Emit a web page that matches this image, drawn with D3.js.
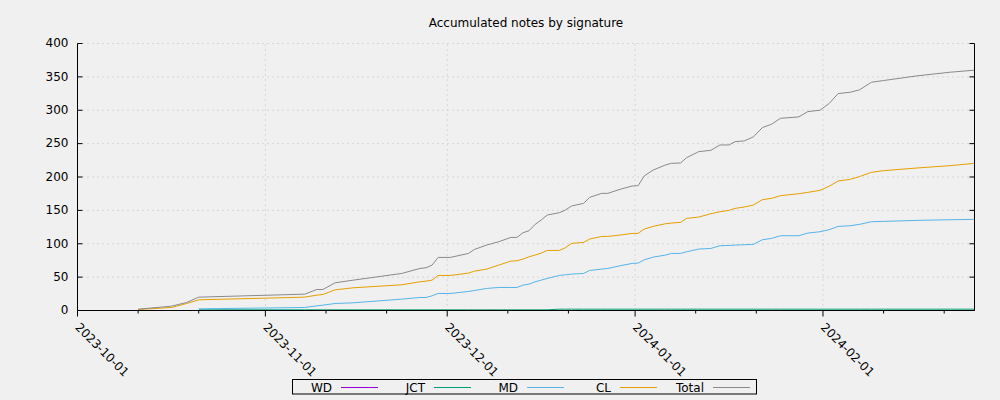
<!DOCTYPE html>
<html><head><meta charset="utf-8">
<script src="https://cdn.jsdelivr.net/npm/d3@7"></script>
<style>
html,body{margin:0;padding:0;background:#f0f0f0;}
svg{display:block;font-family:"DejaVu Sans",sans-serif;}
</style></head><body>
<svg id="chart" width="1000" height="400"></svg>
<script>
const title = "Accumulated notes by signature";
const dates = ["2023-10-11T00","2023-10-16T12","2023-10-19T00","2023-10-21T00","2023-11-07T12","2023-11-09T12","2023-11-10T12","2023-11-12T12","2023-11-15T12","2023-11-23T12",
"2023-11-26T12","2023-11-27T12","2023-11-28T12","2023-11-29T12","2023-12-01T12","2023-12-04T12","2023-12-05T12","2023-12-07T12","2023-12-09T12","2023-12-11T12",
"2023-12-12T12","2023-12-13T12","2023-12-14T12","2023-12-15T12","2023-12-16T12","2023-12-17T12","2023-12-19T12","2023-12-20T12","2023-12-21T12","2023-12-23T12",
"2023-12-24T12","2023-12-26T12","2023-12-27T12","2023-12-29T12","2023-12-31T12","2024-01-01T12","2024-01-02T12","2024-01-04T00","2024-01-06T00","2024-01-07T00",
"2024-01-08T12","2024-01-09T12","2024-01-11T12","2024-01-13T12","2024-01-15T00","2024-01-16T12","2024-01-17T12","2024-01-19T00","2024-01-20T12","2024-01-22T00",
"2024-01-23T12","2024-01-25T00","2024-01-28T00","2024-01-29T12","2024-01-31T12","2024-02-02T00","2024-02-03T12","2024-02-05T12","2024-02-07T00","2024-02-09T00",
"2024-02-11T00","2024-02-16T12","2024-02-22T00","2024-02-26T00"];
const wd = [null,null,null,0,0,0,0,0,0,0, 0,0,0,0,0,0,0,0,0,0, 0,0,0,0,0,0,0,0,0,0, 0,0,0,0,0,0,0,0,0,0, 0,0,0,0,0,0,0,0,0,0, 0,0,0,0,0,0,0,0,0,0, 0,0,0,0];
const jct = [null,null,null,1,1,1,1,1,1,1, 1,1,1,1,1,1,1,1,1,1, 1,1,1,1,1,1,2,2,2,2, 2,2,2,2,2,2,2,2,2,2, 2,2,2,2,2,2,2,2,2,2, 2,2,2,2,2,2,2,2,2,2, 2,2,2,2];
const md = [null,null,null,2.5,4.5,7,8,10.5,11.5,17, 19.5,19.5,22,25.5,25.5,28.5,30,33,34.5,34.5, 34.5,38,39.5,43,45.5,48,52.5,53.5,54.5,55.5, 60,62,63,67,70.5,71,76,80,83,85.5, 85.5,88,92,93,97,97.5,98,98.5,99,106, 108,112,112,116,118,121,126,127,129,133, 133.5,135,136,136.5];
const cl = [1.5,4.5,10.5,16,20,23,24,31,34,38.5, 43,44,45.5,52.5,52.5,56,59,62,68,74, 74.5,77,80.5,83,86,90,90,94,100.5,102, 107,111,111,113,115.5,115.5,122,126,130,131, 132,138,140,145,148,150,153,155,158,166, 168,172,175,177,180,186,194,196.5,200.5,207, 209.5,213.5,217,220.5];
const total = [2,6.5,12,20,24.5,31.5,31.5,41.5,45.5,55.5, 63,64,68,79.5,79.5,85.5,91.5,98,103,109.5, 109.5,116.5,119.5,129,135.5,143,146.5,150.5,156.5,160.5, 169.5,175.5,175.5,181.5,186.5,187,201.5,210.5,218,220.5, 221,229,238,240,248,248,253,254,260,274, 279,288,290,298,300,310,325,327,330.5,342, 344.5,351.5,357,360];
const seriesNames = ["WD","JCT","MD","CL","Total"];
const seriesColors = ["#9400d3","#009e73","#56b4e9","#e69f00","#8a8a8a"];
const yTicks = [0,50,100,150,200,250,300,350,400];
const xMajorTicks = ["2023-10-01","2023-11-01","2023-12-01","2024-01-01","2024-02-01"];
const xMinorTicks = ["2023-10-11","2023-10-21","2023-11-11","2023-11-21","2023-12-11","2023-12-21","2024-01-11","2024-01-21","2024-02-11","2024-02-21"];
const xDomain = ["2023-10-01","2024-02-26"];
const yDomain = [0,400];

const parseT = d3.utcParse("%Y-%m-%dT%H");
const parseD = d3.utcParse("%Y-%m-%d");
const fmt = d3.utcFormat("%Y-%m-%d");

const L = 77.5, R = 974.5, T = 43.5, B = 310.5;
const svg = d3.select("#chart");
const x = d3.scaleUtc().domain(xDomain.map(parseD)).range([L, R]);
const y = d3.scaleLinear().domain(yDomain).range([B, T]);

svg.append("rect").attr("width",1000).attr("height",400).attr("fill","#f0f0f0");

// title
svg.append("text").attr("x",(L+R)/2).attr("y",27).attr("text-anchor","middle")
  .attr("font-size","12px").attr("fill","#000").text(title);

// grid
const gy = svg.append("g").attr("transform",`translate(${L},0)`)
  .call(d3.axisLeft(y).offset(0).tickValues(yTicks.filter(v=>v>0)).tickSize(-(R-L)).tickFormat(""));
gy.select(".domain").remove();
gy.selectAll("line").attr("stroke","#bdbdbd").attr("stroke-dasharray","1,4");
const gx = svg.append("g").attr("transform",`translate(0,${B})`)
  .call(d3.axisBottom(x).offset(0).tickValues(xMajorTicks.slice(1).map(parseD)).tickSize(-(B-T)).tickFormat(""));
gx.select(".domain").remove();
gx.selectAll("line").attr("stroke","#bdbdbd").attr("stroke-dasharray","1,4");

// lines
const pts = dates.map(parseT);
const allSeries = [wd, jct, md, cl, total];
const line = d3.line().defined(d => d[1] != null).x(d => x(d[0])).y(d => y(d[1]));
allSeries.forEach((s, i) => {
  svg.append("path").datum(pts.map((p, k) => [p, s[k]]))
    .attr("fill","none").attr("stroke",seriesColors[i]).attr("stroke-width",1)
    .attr("d", line);
});

// axes
const ax = svg.append("g").attr("transform",`translate(0,${B})`)
  .call(d3.axisBottom(x).offset(0).tickValues(xMajorTicks.map(parseD)).tickSize(6).tickSizeOuter(0).tickFormat(fmt));
ax.selectAll("text").attr("x",0).attr("y",0).attr("dy",0)
  .attr("transform","translate(-3,17.5) rotate(45)").attr("text-anchor","start")
  .attr("font-size","12px").attr("font-family","DejaVu Sans").attr("fill","#000");
const axm = svg.append("g").attr("transform",`translate(0,${B})`)
  .call(d3.axisBottom(x).offset(0).tickValues(xMinorTicks.map(parseD)).tickSize(3).tickSizeOuter(0).tickFormat(""));
axm.select(".domain").remove();

const ayl = svg.append("g").attr("transform",`translate(${L},0)`)
  .call(d3.axisLeft(y).offset(0).tickValues(yTicks).tickSize(-5).tickSizeOuter(0).tickPadding(9));
ayl.selectAll("text").attr("font-size","12px").attr("font-family","DejaVu Sans").attr("fill","#000");
svg.append("g").attr("transform",`translate(${R},0)`)
  .call(d3.axisRight(y).offset(0).tickValues(yTicks).tickSize(-5).tickSizeOuter(0).tickFormat(""));

// legend
const lg = svg.append("g");
lg.append("rect").attr("x",292.5).attr("y",379.5).attr("width",464).attr("height",14.5)
  .attr("fill","none").attr("stroke","#000").attr("stroke-width",1);
seriesNames.forEach((n, i) => {
  const lx = 341 + i * 93;
  lg.append("text").attr("x", lx - 9).attr("y", 391.5).attr("text-anchor","end")
    .attr("font-size","12px").attr("fill","#000").text(n);
  lg.append("line").attr("x1", lx).attr("x2", lx + 37).attr("y1", 387.5).attr("y2", 387.5)
    .attr("stroke", seriesColors[i]).attr("stroke-width",1);
});
</script>
</body></html>
